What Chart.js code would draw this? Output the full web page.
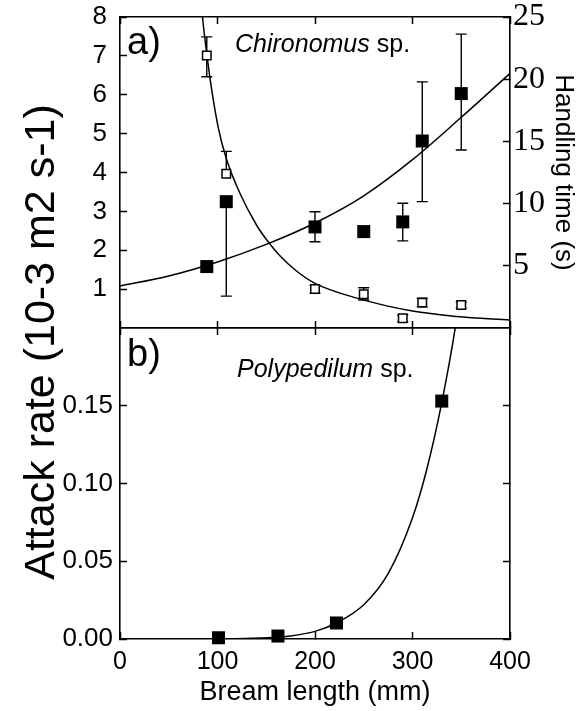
<!DOCTYPE html>
<html><head><meta charset="utf-8">
<script src="https://cdn.jsdelivr.net/npm/chart.js@4"></script>
<style>
html,body{margin:0;padding:0;background:#fff;}
#wrap{position:relative;width:584px;height:711px;overflow:hidden;}
.box{position:absolute;left:0;top:0;width:584px;height:711px;}
</style></head><body>
<div id="wrap">
<div class="box"><canvas id="cA"></canvas></div>
<div class="box"><canvas id="cB"></canvas></div>
</div>
<script>
// ---------- Panel a) Chironomus sp. ----------
const chiroLength   = [89, 109, 200, 250, 290, 310, 350];
const attackRate    = [1.58, 3.25, 2.60, 2.48, 2.73, 4.81, 6.03];
const attackLow     = [1.58, 0.82, 2.22, 2.48, 2.24, 3.25, 4.58];
const attackHigh    = [1.58, 3.25, 2.99, 2.48, 3.21, 6.33, 7.56];
const handlingTime  = [21.9, 12.4, 3.13, 2.71, 0.78, 2.04, 1.85];
const handlingLow   = [20.2, 12.4, 2.80, 2.25, 0.50, 1.70, 1.60];
const handlingHigh  = [23.4, 14.2, 3.45, 3.24, 1.05, 2.39, 2.10];
const attackFitLength = [0, 50, 100, 150, 200, 250, 300, 350, 400];
const attackFit       = [1.08, 1.34, 1.70, 2.15, 2.70, 3.40, 4.33, 5.42, 6.55];
const handlingFitLength = [80, 85, 88, 94, 101, 109, 123, 140, 150, 164, 181, 200, 243, 300, 345, 400];
const handlingFit       = [28.95, 24.7, 22.66, 19.18, 16.03, 13.63, 10.83, 8.28, 7.13, 5.80, 4.58, 3.59, 2.40, 1.36, 0.93, 0.64];

// ---------- Panel b) Polypedilum sp. ----------
const polyLength = [101, 162, 222, 330];
const polyRate   = [0.0008, 0.0019, 0.0103, 0.153];
const polyFitLength = [0, 50, 100, 150, 175, 200, 222, 250, 275, 300, 315, 330, 345, 352];
const polyFit       = [0, 0.00001, 0.0001, 0.0008, 0.0020, 0.0049, 0.0103, 0.022, 0.042, 0.078, 0.110, 0.152, 0.205, 0.24];

// ---------- Tick labels ----------
const lengthTicks   = [0, 100, 200, 300, 400];
const attackTicks   = [1, 2, 3, 4, 5, 6, 7, 8];
const handlingTicks = [5, 10, 15, 20, 25];
const polyTicks     = [0, 0.05, 0.10, 0.15];

const SANS = "'Liberation Sans', Arial, Helvetica, sans-serif";
const SERIF = "'Liberation Serif', 'Times New Roman', serif";
Chart.defaults.font.family = SANS;
Chart.defaults.color = '#000';

const pts = (xs, ys) => xs.map((x, i) => ({x, y: ys[i]}));
const setTicks = arr => s => { s.ticks = arr.map(v => ({value: v})); };
const fix = (w, h) => s => {
  if (w !== null) s.width = w;
  if (h !== null) s.height = h;
  s.paddingTop = 0; s.paddingBottom = 0; s.paddingLeft = 0; s.paddingRight = 0;
};
function axis(extra) {
  return Object.assign({
    type: 'linear',
    grid: {drawOnChartArea: false, drawTicks: true, tickLength: -7, tickWidth: 1.5, tickColor: '#000'},
    border: {display: true, color: '#000', width: 1.6}
  }, extra);
}

const errorBars = {
  id: 'errorBars',
  beforeDatasetsDraw(chart, args, opts) {
    if (!opts || !opts.sets) return;
    const ctx = chart.ctx, xs = chart.scales.x, cap = 5.5;
    ctx.save();
    ctx.strokeStyle = '#000';
    ctx.lineWidth = 1.4;
    for (const set of opts.sets) {
      const ys = chart.scales[set.axis];
      set.x.forEach((xv, i) => {
        const px = xs.getPixelForValue(xv);
        const pv = ys.getPixelForValue(set.y[i]);
        ctx.beginPath();
        if (set.low[i] < set.y[i]) {
          const pl = ys.getPixelForValue(set.low[i]);
          ctx.moveTo(px, pv); ctx.lineTo(px, pl);
          ctx.moveTo(px - cap, pl); ctx.lineTo(px + cap, pl);
        }
        if (set.high[i] > set.y[i]) {
          const ph = ys.getPixelForValue(set.high[i]);
          ctx.moveTo(px, pv); ctx.lineTo(px, ph);
          ctx.moveTo(px - cap, ph); ctx.lineTo(px + cap, ph);
        }
        ctx.stroke();
      });
    }
    ctx.restore();
  }
};

const labels = {
  id: 'labels',
  afterDraw(chart, args, opts) {
    if (!opts || !opts.items) return;
    const ctx = chart.ctx;
    ctx.save();
    ctx.fillStyle = '#000';
    for (const it of opts.items) {
      ctx.save();
      ctx.translate(it.x, it.y);
      if (it.rot) ctx.rotate(it.rot);
      ctx.textAlign = it.align || 'left';
      ctx.textBaseline = it.baseline || 'alphabetic';
      let cx = 0;
      for (const part of it.parts) {
        ctx.font = part.font;
        ctx.fillText(part.text, cx, 0);
        cx += ctx.measureText(part.text).width;
      }
      ctx.restore();
    }
    ctx.restore();
  }
};

const lineDs = (data, yAxisID) => ({
  data, yAxisID, showLine: true, pointRadius: 0, borderColor: '#000', borderWidth: 1.5,
  cubicInterpolationMode: 'monotone', fill: false, clip: 0, order: 2
});

new Chart(document.getElementById('cA'), {
  type: 'scatter',
  data: {
    datasets: [
      lineDs(pts(attackFitLength, attackFit), 'yA'),
      lineDs(pts(handlingFitLength, handlingFit), 'yH'),
      {data: pts(chiroLength, handlingTime), yAxisID: 'yH', pointStyle: 'rect', pointRadius: 6,
       backgroundColor: '#fff', borderColor: '#000', borderWidth: 1.5, clip: false, order: 1},
      {data: pts(chiroLength, attackRate), yAxisID: 'yA', pointStyle: 'rect', pointRadius: 9.2,
       backgroundColor: '#000', borderColor: '#000', borderWidth: 0, clip: false, order: 0}
    ]
  },
  options: {
    responsive: true, maintainAspectRatio: false, animation: false, events: [],
    layout: {padding: {top: 17, left: 0, right: 0, bottom: 0}},
    plugins: {
      legend: {display: false}, tooltip: {enabled: false},
      errorBars: {sets: [
        {axis: 'yA', x: chiroLength, y: attackRate, low: attackLow, high: attackHigh},
        {axis: 'yH', x: chiroLength, y: handlingTime, low: handlingLow, high: handlingHigh}
      ]},
      labels: {items: [
        {x: 127, y: 54, parts: [{text: 'a)', font: '38px ' + SANS}]},
        {x: 235, y: 52, parts: [{text: 'Chironomus', font: 'italic 25px ' + SANS}, {text: ' sp.', font: '25px ' + SANS}]},
        {x: 127, y: 366, parts: [{text: 'b)', font: '38px ' + SANS}]},
        {x: 237, y: 377, parts: [{text: 'Polypedilum', font: 'italic 25px ' + SANS}, {text: ' sp.', font: '25px ' + SANS}]},
        {x: 42, y: 342, rot: -Math.PI / 2, align: 'center', baseline: 'middle',
         parts: [{text: 'Attack rate (10-3 m2 s-1)', font: '43px ' + SANS}]}
      ]}
    },
    scales: {
      x: axis({position: 'bottom', min: 0, max: 400, afterBuildTicks: setTicks(lengthTicks),
               ticks: {display: false}, afterFit: fix(null, 383)}),
      xTop: axis({position: 'top', min: 0, max: 400, afterBuildTicks: setTicks(lengthTicks),
                  ticks: {display: false}, afterFit: fix(null, 0)}),
      yA: axis({position: 'left', min: 0, max: 8, afterBuildTicks: setTicks(attackTicks),
                ticks: {padding: 20, font: {size: 26, lineHeight: 1}}, afterFit: fix(120, null)}),
      yH: axis({position: 'right', min: 0, max: 25, afterBuildTicks: setTicks(handlingTicks),
                ticks: {padding: 10, font: {family: SERIF, size: 32, lineHeight: 1}},
                title: {display: true, text: 'Handling time (s)', font: {size: 26}, padding: {top: 5, bottom: 0}},
                afterFit: fix(74, null)})
    }
  },
  plugins: [errorBars, labels]
});

new Chart(document.getElementById('cB'), {
  type: 'scatter',
  data: {
    datasets: [
      lineDs(pts(polyFitLength, polyFit), 'yP'),
      {data: pts(polyLength, polyRate), yAxisID: 'yP', pointStyle: 'rect', pointRadius: 9.2,
       backgroundColor: '#000', borderColor: '#000', borderWidth: 0, clip: false, order: 0}
    ]
  },
  options: {
    responsive: true, maintainAspectRatio: false, animation: false, events: [],
    layout: {padding: {top: 328, left: 0, right: 0, bottom: 0}},
    plugins: {legend: {display: false}, tooltip: {enabled: false}},
    scales: {
      x: axis({position: 'bottom', min: 0, max: 400, afterBuildTicks: setTicks(lengthTicks),
               ticks: {padding: 15, font: {size: 25, lineHeight: 1.2}},
               title: {display: true, text: 'Bream length (mm)', font: {size: 27}, padding: {top: 0, bottom: 2}},
               afterFit: fix(null, 72)}),
      xTop: axis({position: 'top', min: 0, max: 400, afterBuildTicks: setTicks(lengthTicks),
                  ticks: {display: false}, afterFit: fix(null, 0)}),
      yP: axis({position: 'left', min: 0, max: 0.2, afterBuildTicks: setTicks(polyTicks),
                ticks: {padding: 14, font: {size: 26, lineHeight: 1}, callback: v => v.toFixed(2)},
                afterFit: fix(120, null)}),
      yP2: axis({position: 'right', min: 0, max: 0.2, afterBuildTicks: setTicks(polyTicks),
                 ticks: {display: false}, afterFit: fix(74, null)})
    }
  }
});
</script>
</body></html>
